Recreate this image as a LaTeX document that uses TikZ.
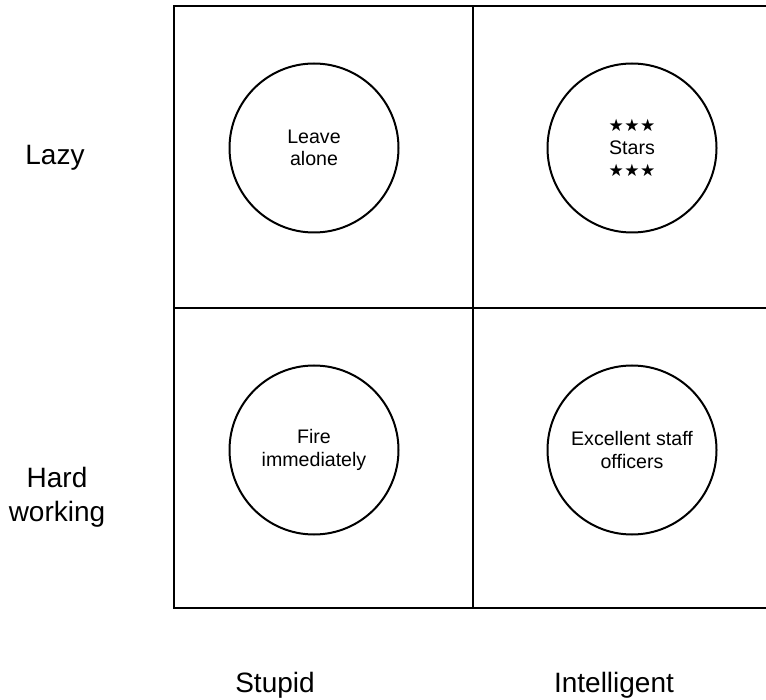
\documentclass[tikz,border=0pt]{standalone}
\usepackage{fontspec}
\setmainfont{Liberation Sans}
\newfontfamily\symfont{DejaVu Sans}
\usetikzlibrary{positioning}
\newcommand{\starrow}{{\symfont\fontsize{8.5}{8}\selectfont ★\kern0.2pt★\kern0.2pt★}}
\tikzset{
  cellcircle/.style={draw, circle, line width=1pt, minimum size=84.5pt, inner sep=0pt,
    align=center, font=\fontsize{9.8}{11.2}\selectfont},
  axislabel/.style={align=center, font=\fontsize{14}{17}\selectfont},
  gridline/.style={line width=1.1pt}
}

\begin{document}
\begin{tikzpicture}[x=0.5pt, y=-0.5pt]
\useasboundingbox (0,0) rectangle (766,700);

% draw frame and cross lines
\coordinate (topleft) at (174,6);
\coordinate (topright) at (766,6);
\coordinate (botleft) at (174,608);
\coordinate (botright) at (766,608);
\draw[gridline] (topright) -- (topleft) -- (botleft) -- (botright);
\draw[gridline] (473,6) -- (473,608);
\draw[gridline] (174,308) -- (766,308);

% circles in the cells
\foreach \x/\y/\name/\descr in {314/148/lazystupid/{Leave\\alone},
  632/148/lazyclever/{\starrow\\Stars\\\starrow},
  314/450/hardstupid/{Fire\\immediately},
  632/450/hardclever/{Excellent staff\\officers}}
\node[cellcircle] (\name) at (\x,\y) {\descr};

% row labels
\node[axislabel, anchor=base] (lazy) at (55,165) {Lazy};
\node[axislabel] (hard) at (57,497) {Hard\\working};

% column labels
\node[axislabel, anchor=base] (stupid) at (275,692) {Stupid};
\node[axislabel, anchor=base] (clever) at (614,692) {Intelligent};
\end{tikzpicture}
\end{document}
